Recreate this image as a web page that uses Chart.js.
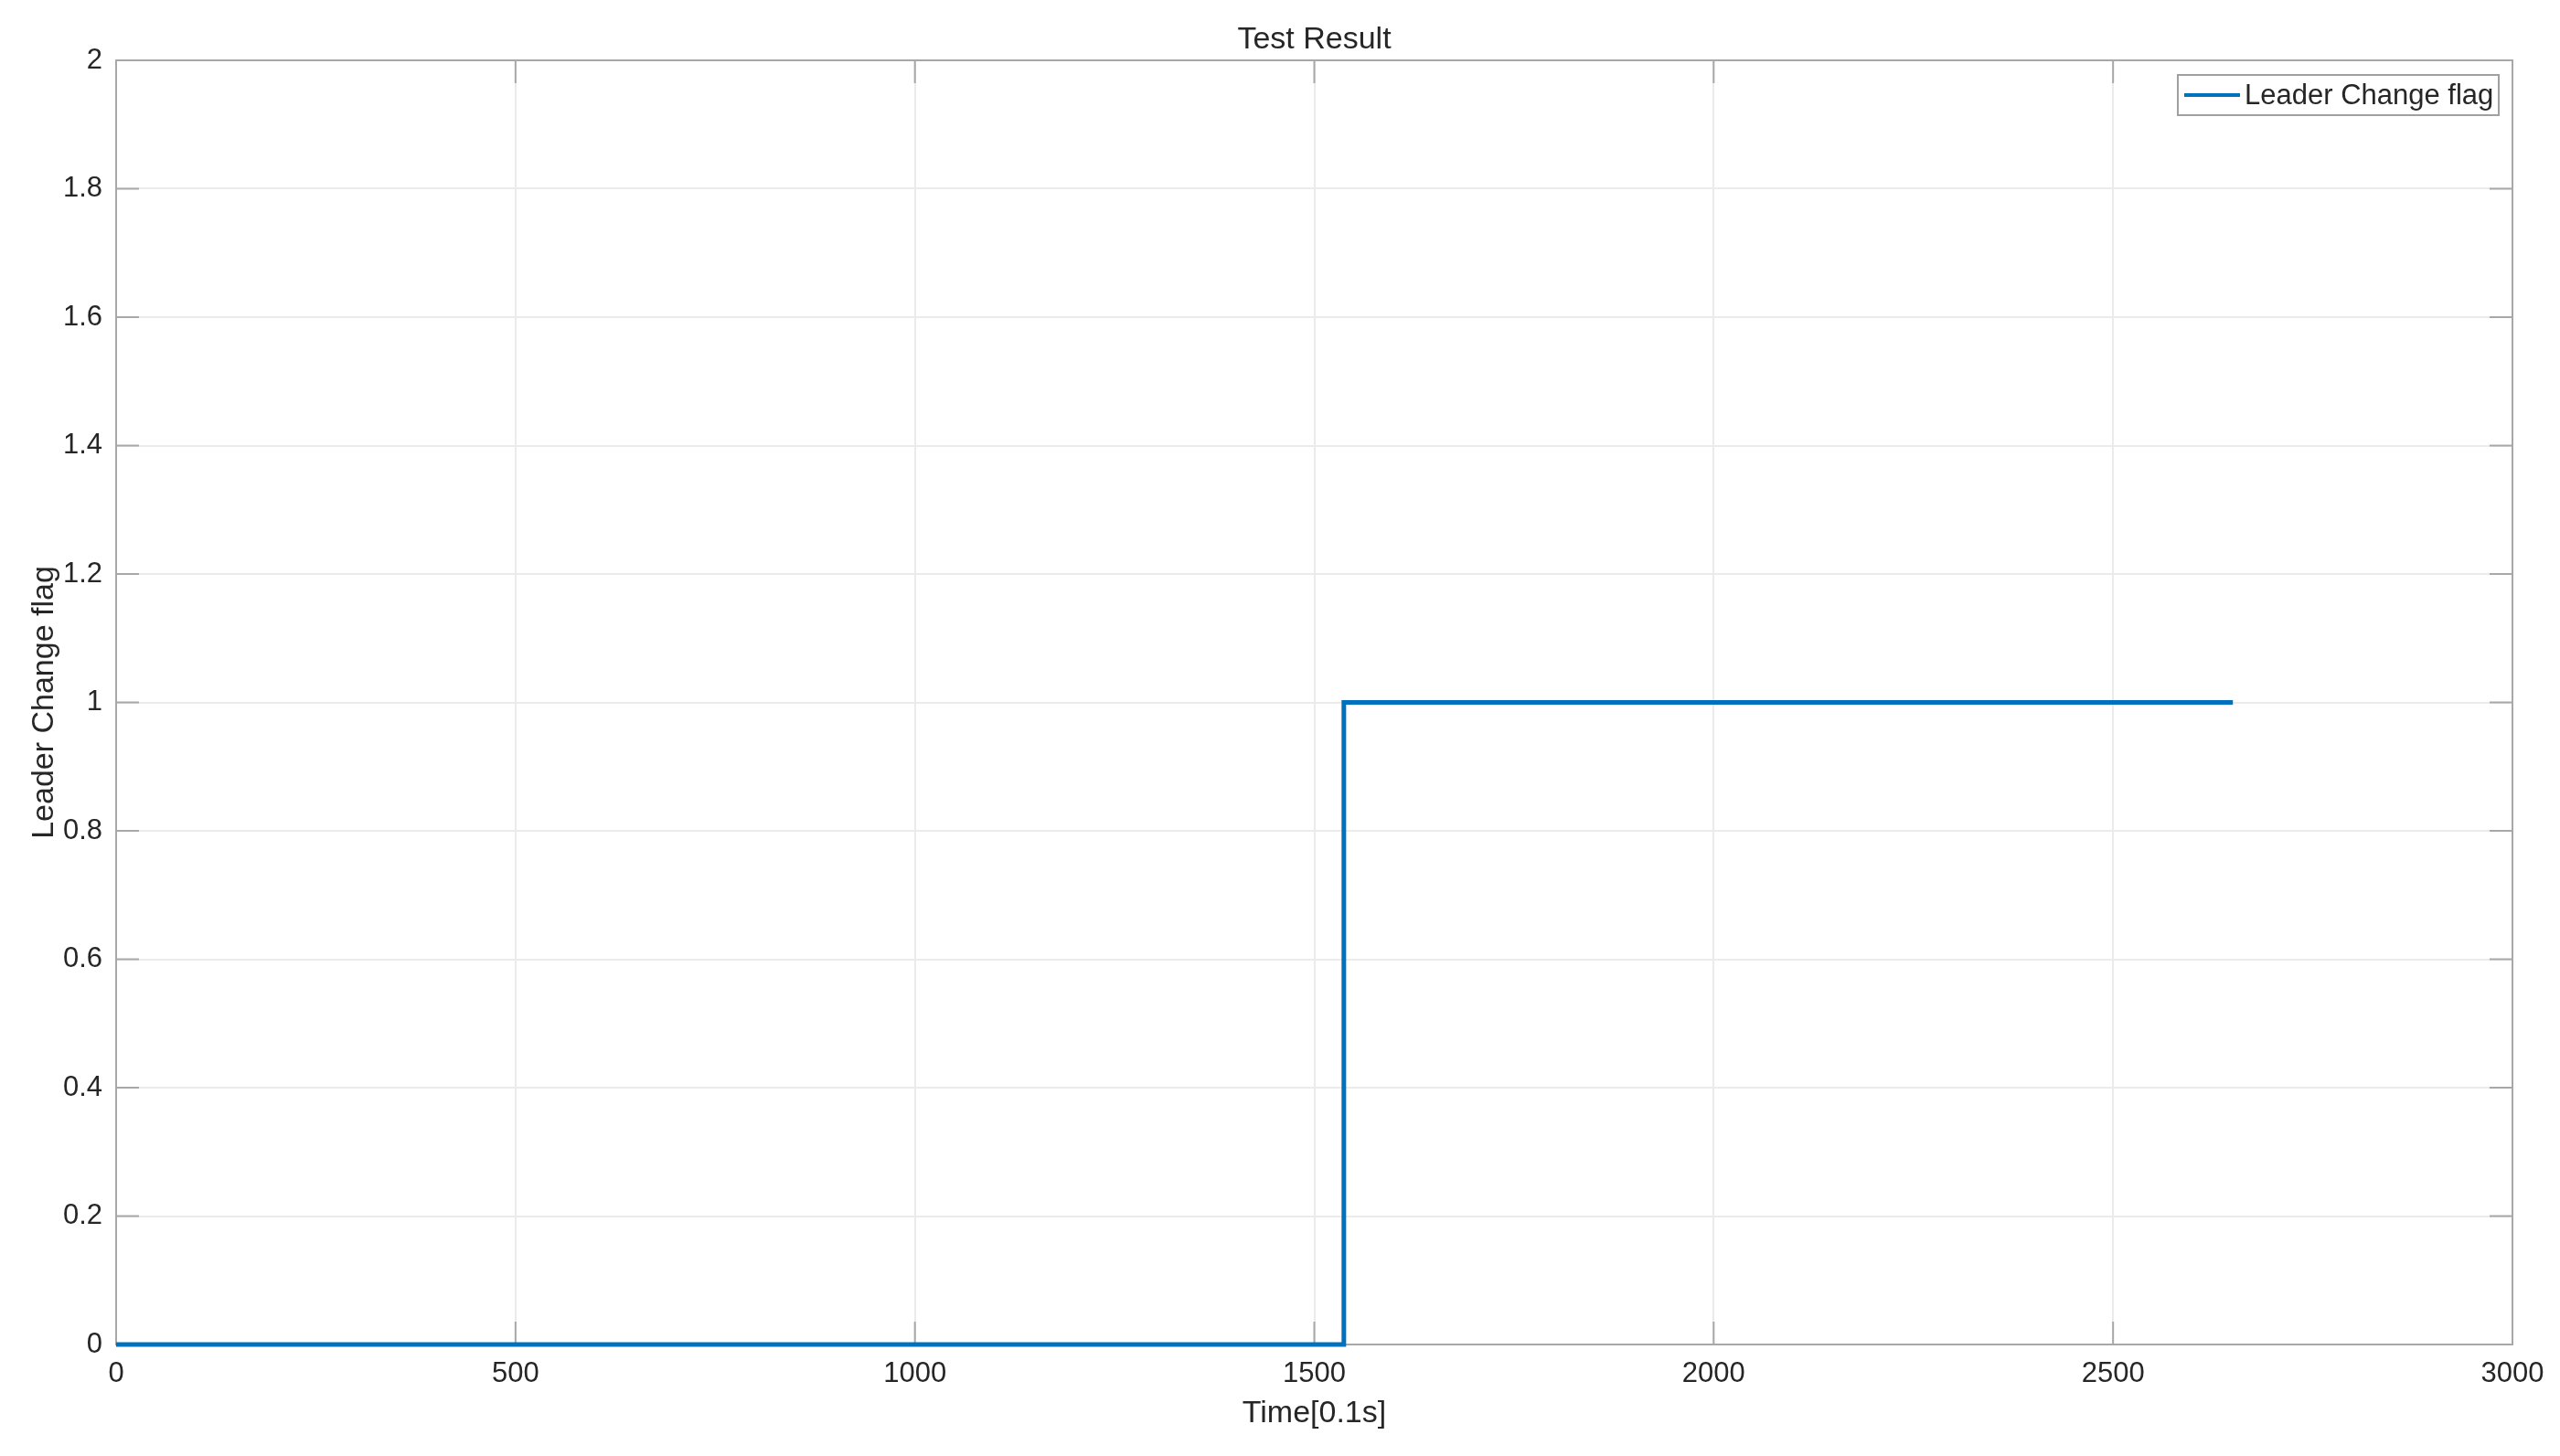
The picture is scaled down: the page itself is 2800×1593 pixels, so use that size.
<!DOCTYPE html>
<html>
<head>
<meta charset="utf-8">
<script src="https://cdn.jsdelivr.net/npm/chart.js@4/dist/chart.umd.min.js"></script>
<style>
html,body{margin:0;padding:0;background:#fff;}
#wrap{width:2800px;height:1593px;position:relative;}
</style>
</head>
<body>
<div id="wrap"><canvas id="c" width="2800" height="1593"></canvas></div>
<script>
// Data
const timeValues = [0, 1537, 1537, 2650];
const flagValues = [0, 0, 1, 1];
const seriesLabel = 'Leader Change flag';
const chartTitle = 'Test Result';
const xTicks = [0, 500, 1000, 1500, 2000, 2500, 3000];
const yTicks = [0, 0.2, 0.4, 0.6, 0.8, 1, 1.2, 1.4, 1.6, 1.8, 2];

const FONT = '"Liberation Sans", Arial, sans-serif';
const TEXT = '#262626';
const BOX = '#a8a8a8';

const points = timeValues.map((t, i) => ({x: t, y: flagValues[i]}));

const boxPlugin = {
  id: 'boxPlugin',
  beforeDatasetsDraw(chart) {
    const {ctx, chartArea: a, scales} = chart;
    ctx.save();
    ctx.fillStyle = TEXT;
    ctx.font = '34px ' + FONT;
    ctx.textAlign = 'center';
    ctx.textBaseline = 'middle';
    ctx.fillText(chartTitle, (a.left + a.right) / 2, a.top - 22);

    ctx.strokeStyle = BOX;
    ctx.lineWidth = 2;
    ctx.strokeRect(a.left, a.top, a.right - a.left, a.bottom - a.top);
    const tl = 25;
    ctx.beginPath();
    xTicks.forEach(v => {
      const px = scales.x.getPixelForValue(v);
      ctx.moveTo(px, a.bottom); ctx.lineTo(px, a.bottom - tl);
      ctx.moveTo(px, a.top); ctx.lineTo(px, a.top + tl);
    });
    yTicks.forEach(v => {
      const py = scales.y.getPixelForValue(v);
      ctx.moveTo(a.left, py); ctx.lineTo(a.left + tl, py);
      ctx.moveTo(a.right, py); ctx.lineTo(a.right - tl, py);
    });
    ctx.stroke();
    ctx.restore();
  },
  afterDatasetsDraw(chart) {
    const {ctx, chartArea: a} = chart;
    ctx.save();
    const ds = chart.data.datasets[0];
    const bx = a.right - 366;
    const by = a.top + 16;
    const bw = 351, bh = 44;
    ctx.fillStyle = '#fff';
    ctx.fillRect(bx, by, bw, bh);
    ctx.strokeStyle = '#a0a0a0';
    ctx.lineWidth = 2;
    ctx.strokeRect(bx, by, bw, bh);
    const cy = by + bh / 2;
    ctx.strokeStyle = ds.borderColor;
    ctx.lineWidth = 4;
    ctx.beginPath();
    ctx.moveTo(bx + 7, cy); ctx.lineTo(bx + 68, cy);
    ctx.stroke();
    ctx.fillStyle = TEXT;
    ctx.font = '31px ' + FONT;
    ctx.textBaseline = 'middle';
    ctx.textAlign = 'left';
    ctx.fillText(ds.label, bx + 73, cy + 1);
    ctx.restore();
  }
};

new Chart(document.getElementById('c'), {
  type: 'line',
  data: {
    datasets: [{
      label: seriesLabel,
      data: points,
      borderColor: '#0072BD',
      borderWidth: 5,
      pointRadius: 0,
      fill: false,
      tension: 0,
      clip: false
    }]
  },
  options: {
    responsive: false,
    animation: false,
    devicePixelRatio: 1,
    layout: {padding: {left: 0, right: 52, top: 66, bottom: 0}},
    plugins: {
      legend: {display: false},
      tooltip: {enabled: false},
      title: {display: false}
    },
    scales: {
      x: {
        type: 'linear',
        min: 0, max: 3000,
        afterFit(s) { s.height = 122; },
        afterBuildTicks(s) { s.ticks = xTicks.map(v => ({value: v})); },
        ticks: {color: TEXT, font: {family: FONT, size: 31}, padding: 14, maxRotation: 0,
          callback: v => String(v)},
        grid: {color: '#ebebeb', lineWidth: 2, drawTicks: false},
        border: {display: false},
        title: {display: true, text: 'Time[0.1s]', color: TEXT,
          font: {family: FONT, size: 34}, padding: {top: 0, bottom: 26}}
      },
      y: {
        type: 'linear',
        min: 0, max: 2,
        afterFit(s) { s.width = 127; },
        afterBuildTicks(s) { s.ticks = yTicks.map(v => ({value: v})); },
        ticks: {color: TEXT, font: {family: FONT, size: 31}, padding: 15,
          callback: v => String(Math.round(v * 10) / 10)},
        grid: {color: '#ebebeb', lineWidth: 2, drawTicks: false},
        border: {display: false},
        title: {display: true, text: 'Leader Change flag', color: TEXT,
          font: {family: FONT, size: 34}, padding: {top: 28, bottom: 0}}
      }
    }
  },
  plugins: [boxPlugin]
});
</script>
</body>
</html>
